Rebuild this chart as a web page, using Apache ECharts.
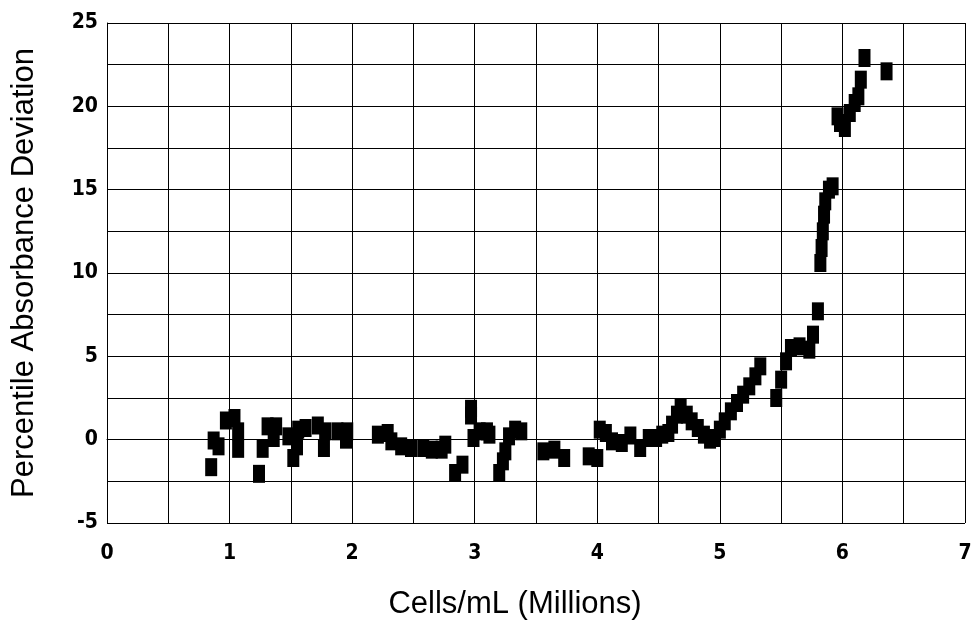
<!DOCTYPE html>
<html>
<head>
<meta charset="utf-8">
<script src="https://cdn.jsdelivr.net/npm/echarts@6/dist/echarts.min.js"></script>
<style>
html,body{margin:0;padding:0;background:#fff;}
#chart{width:974px;height:623px;}
</style>
</head>
<body>
<div id="chart"></div>
<script>
var cells = [0.85,0.87,0.91,0.97,1.04,1.07,1.07,1.24,1.27,1.31,1.38,1.36,1.48,1.52,1.55,1.56,1.62,1.72,1.77,1.78,1.88,1.96,1.95,
  2.21,2.29,2.32,2.40,2.48,2.58,2.65,2.73,2.76,2.84,2.90,2.97,2.97,2.99,3.04,3.10,3.12,3.20,3.23,3.25,3.28,3.33,3.38,
  3.56,3.65,3.73,3.93,4.00,4.02,4.07,4.12,4.20,4.27,4.35,4.42,4.48,4.53,4.58,4.61,4.65,4.68,4.73,4.77,4.82,4.87,4.92,
  4.96,5.00,5.04,5.09,5.14,5.19,5.24,5.29,5.33,5.46,5.50,5.54,5.58,5.65,5.73,5.76,5.80,
  5.82,5.83,5.84,5.85,5.86,5.89,5.92,5.96,5.98,6.02,6.06,6.10,6.13,6.15,6.18,6.36];
var deviation = [-1.65,-0.05,-0.4,1.15,1.3,0.5,-0.55,-2.05,-0.55,0.8,0.8,0.1,0.2,-1.1,-0.4,0.6,0.7,0.85,-0.5,0.5,0.5,0.5,0.0,
  0.3,0.4,-0.1,-0.4,-0.5,-0.5,-0.6,-0.6,-0.3,-2.0,-1.5,1.85,1.45,0.1,0.5,0.5,0.3,-2.0,-1.3,-0.7,0.2,0.6,0.5,
  -0.7,-0.6,-1.1,-1.0,-1.1,0.6,0.4,-0.1,-0.2,0.25,-0.5,0.1,0.1,0.3,0.4,0.9,1.5,1.9,1.5,1.1,0.7,0.3,0.0,
  0.1,0.6,1.1,1.7,2.2,2.7,3.2,3.8,4.4,2.5,3.6,4.7,5.5,5.6,5.4,6.3,7.7,
  10.6,11.5,12.5,13.5,14.3,15.0,15.2,19.4,19.0,18.7,19.6,20.2,20.6,21.6,22.9,22.1];
var xTicks = [0,1,2,3,4,5,6,7];
var yTicks = [-5,0,5,10,15,20,25];

var points = cells.map(function(x,i){return [x, deviation[i]];});
var chart = echarts.init(document.getElementById('chart'), null, {renderer:'canvas'});
var labelFont = {fontFamily:'DejaVu Sans Condensed, Liberation Sans Narrow, Liberation Sans', fontWeight:'bold', fontSize:21, color:'#000'};
chart.setOption({
  animation:false,
  backgroundColor:'#fff',
  grid:{left:107, right:9, top:23, bottom:100, containLabel:false, outerBoundsMode:'none'},
  xAxis:{
    type:'value', min:0, max:7, interval:0.5,
    name:'Cells/mL (Millions)', nameLocation:'middle', nameGap:66,
    nameTextStyle:{fontFamily:'Liberation Sans, Arial', fontSize:31, color:'#000', padding:[0,42,0,0]},
    axisLine:{show:true, lineStyle:{color:'#000', width:1}},
    axisTick:{show:false},
    axisLabel:Object.assign({margin:20, formatter:function(v){return xTicks.indexOf(v)>=0 ? String(v) : '';}}, labelFont),
    splitLine:{show:true, lineStyle:{color:'#000', width:1}}
  },
  yAxis:{
    type:'value', min:-5, max:25, interval:2.5,
    name:'Percentile Absorbance Deviation', nameLocation:'middle', nameGap:67, nameRotate:90,
    nameTextStyle:{fontFamily:'Liberation Sans, Arial', fontSize:31, color:'#000'},
    axisLine:{show:true, lineStyle:{color:'#000', width:1}},
    axisTick:{show:false},
    axisLabel:Object.assign({margin:9, formatter:function(v){return yTicks.indexOf(v)>=0 ? String(v) : '';}}, labelFont),
    splitLine:{show:true, lineStyle:{color:'#000', width:1}}
  },
  series:[{
    type:'scatter',
    data:points,
    symbol:'rect',
    symbolSize:[12,18],
    itemStyle:{color:'#000', opacity:1}
  }]
});
</script>
</body>
</html>
